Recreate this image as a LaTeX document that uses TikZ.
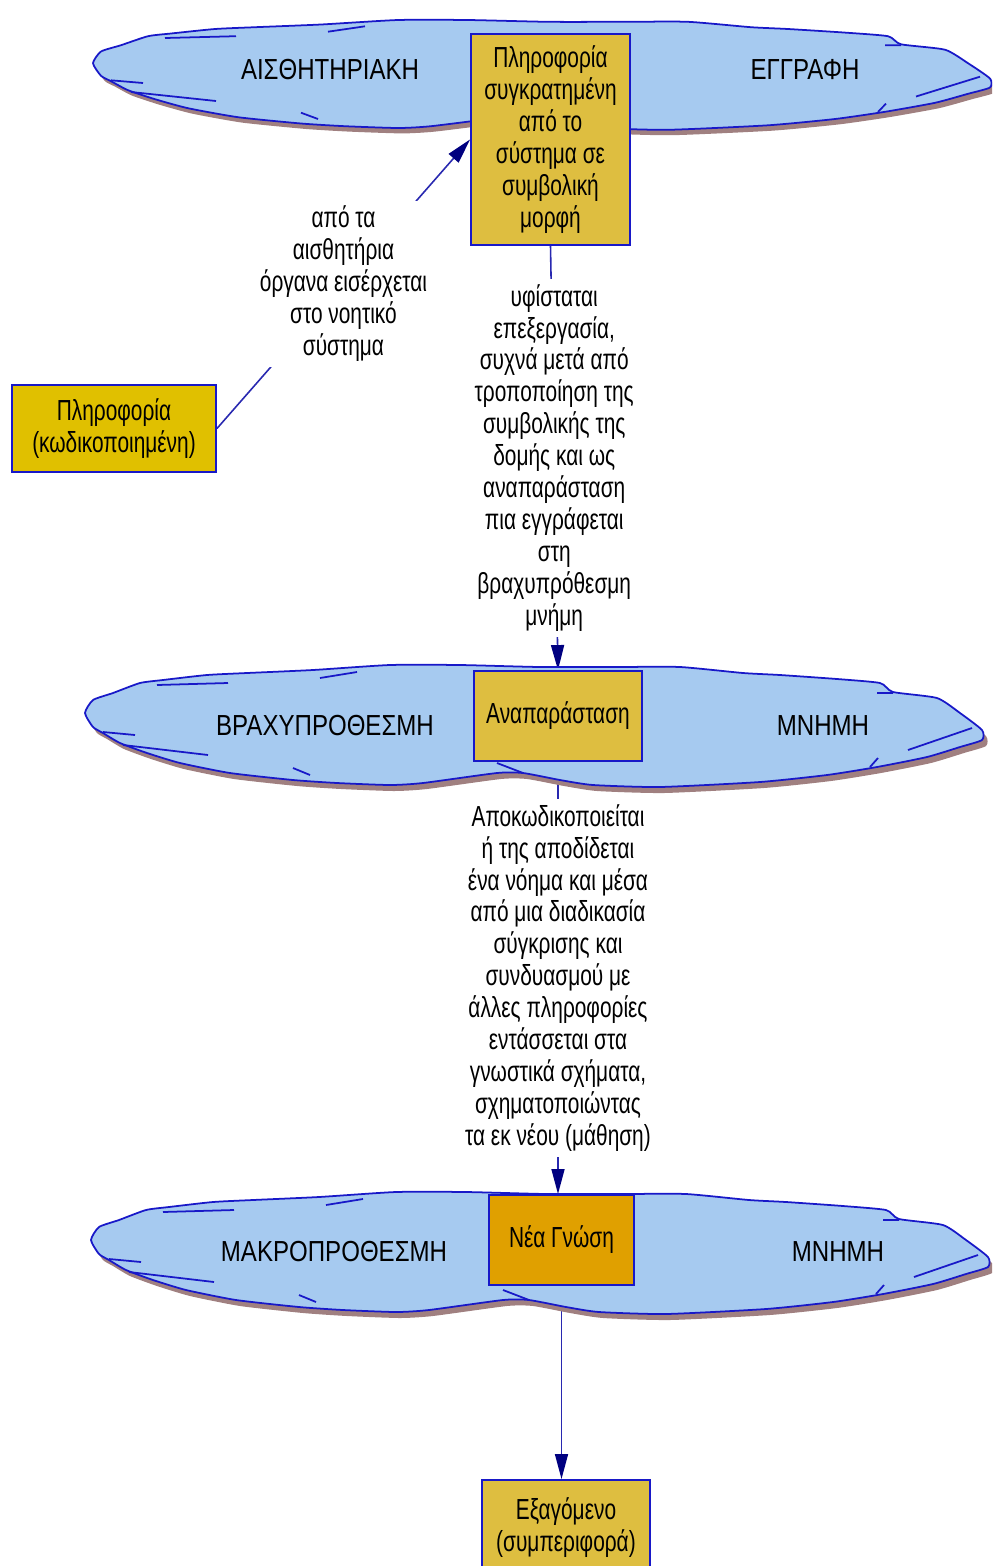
\documentclass[tikz,border=0pt]{standalone}
\usepackage{fontspec}
\setmainfont{Liberation Sans}[FakeStretch=0.72]
\newfontfamily\capsfont{Liberation Sans}[FakeStretch=0.83]
\usetikzlibrary{arrows.meta}
\definecolor{cloudblue}{HTML}{A6CAF0}
\definecolor{cloudedge}{HTML}{1818C8}
\definecolor{cloudshade}{HTML}{A08080}
\definecolor{boxgold}{HTML}{DEBE40}
\definecolor{boxyellow}{HTML}{E0C000}
\definecolor{boxorange}{HTML}{E0A000}
\definecolor{linkblue}{HTML}{2828B0}
\definecolor{tipnavy}{HTML}{000080}
\pgfdeclarelayer{links}
\pgfsetlayers{links,main}

\begin{document}
\begin{tikzpicture}[x=0.02cm, y=-0.02cm,
    txt/.style={font=\fontsize{16.5}{18.2}\selectfont, align=center},
    stage/.style={font=\capsfont\fontsize{16.5}{18.2}\selectfont},
    box/.style={txt, draw=cloudedge, line width=1.1pt, fill=boxgold, inner sep=0pt},
    link/.style={draw=linkblue, line width=0.9pt, -{Triangle[length=0.5cm, width=0.26cm, color=tipnavy]}},
    linklabel/.style={txt, fill=white, inner sep=3pt},
    pics/memcloud/.style={code={
        \fill[cloudshade, shift={(4,6)}] \cloudline;
        \filldraw[fill=cloudblue, draw=cloudedge, line width=1pt] \cloudline;
        % wisps inside the cloud
        \draw[cloudedge, line width=1pt] (-378,-40) -- (-307,-42) (-215,-47) -- (-178,-53)
            (342,-32) -- (358,-32) (-432,7) -- (-400,10) (-412,20) -- (-327,30)
            (-242,43) -- (-225,50) (-38,38) -- (-12,48) (373,25) -- (437,3) (335,42) -- (343,33);
    }}]
    \useasboundingbox (0,0) rectangle (992,1566);
    \clip (0,0) rectangle (992,1566);

    % Cloud outline, centred on (0,0)
    \def\cloudline{plot[smooth cycle, tension=0.35] coordinates {
        (-450,-12) (-442,-25) (-422,-32) (-395,-42) (-372,-45) (-328,-50) (-288,-52)
        (-222,-55) (-145,-60) (-75,-60) (5,-58) (82,-58) (145,-58) (208,-52) (245,-50)
        (302,-46) (345,-42) (358,-33) (402,-27) (425,-12) (447,5)
        (447,15) (425,22) (392,32) (342,42) (292,50) (225,57) (125,62) (58,60) (25,55)
        (-12,48) (-38,48) (-112,58) (-145,60) (-198,58) (-242,55) (-305,48) (-355,38)
        (-388,28) (-415,18) (-432,8) (-442,2)}}

    % Memory stages
    \pic[yscale=0.9] at (543,74) {memcloud};
    \pic at (535,725) {memcloud};
    \pic at (541,1252) {memcloud};

    % Stage names
    \node[stage] (sens) at (330,70) {ΑΙΣΘΗΤΗΡΙΑΚΗ};
    \node[stage] (reg) at (805,70) {ΕΓΓΡΑΦΗ};
    \node[stage] (short) at (325,726) {ΒΡΑΧΥΠΡΟΘΕΣΜΗ};
    \node[stage] (shortmem) at (823,726) {ΜΝΗΜΗ};
    \node[stage] (long) at (334,1252) {ΜΑΚΡΟΠΡΟΘΕΣΜΗ};
    \node[stage] (longmem) at (838,1252) {ΜΝΗΜΗ};

    % Boxes
    \node[box, fill=boxyellow, minimum width=4.08cm, minimum height=1.74cm] (coded) at (114,428.5) {Πληροφορία\\(κωδικοποιημένη)};
    \node[box, minimum width=3.18cm, minimum height=4.22cm] (held) at (550.5,139.5) {Πληροφορία\\συγκρατημένη\\από το\\σύστημα σε\\συμβολική\\μορφή};
    \node[box, minimum width=3.36cm, minimum height=1.8cm] (repr) at (558,716) {Αναπαράσταση};
    \node[box, fill=boxorange, minimum width=2.9cm, minimum height=1.8cm] (newk) at (561.5,1240) {Νέα Γνώση};
    \node[box, minimum width=3.36cm, minimum height=1.92cm] (output) at (566,1528) {Εξαγόμενο\\(συμπεριφορά)};

    % Connectors (under the clouds)
    \begin{pgfonlayer}{links}
    \draw[link] (coded.east) -- node[linklabel] {από τα\\αισθητήρια\\όργανα εισέρχεται\\στο νοητικό\\σύστημα} (held.west);
    \draw[link] (held.south) -- node[linklabel] {υφίσταται\\επεξεργασία,\\συχνά μετά από\\τροποποίηση της\\συμβολικής της\\δομής και ως\\αναπαράσταση\\πια εγγράφεται\\στη\\βραχυπρόθεσμη\\μνήμη} (repr.north);
    \draw[link] (repr.south) -- node[linklabel] {Αποκωδικοποιείται\\ή της αποδίδεται\\ένα νόημα και μέσα\\από μια διαδικασία\\σύγκρισης και\\συνδυασμού με\\άλλες πληροφορίες\\εντάσσεται στα\\γνωστικά σχήματα,\\σχηματοποιώντας\\τα εκ νέου (μάθηση)} (repr.south |- newk.north);
    \draw[link] (newk.south) -- (newk.south |- output.north);
    \end{pgfonlayer}
\end{tikzpicture}
\end{document}
